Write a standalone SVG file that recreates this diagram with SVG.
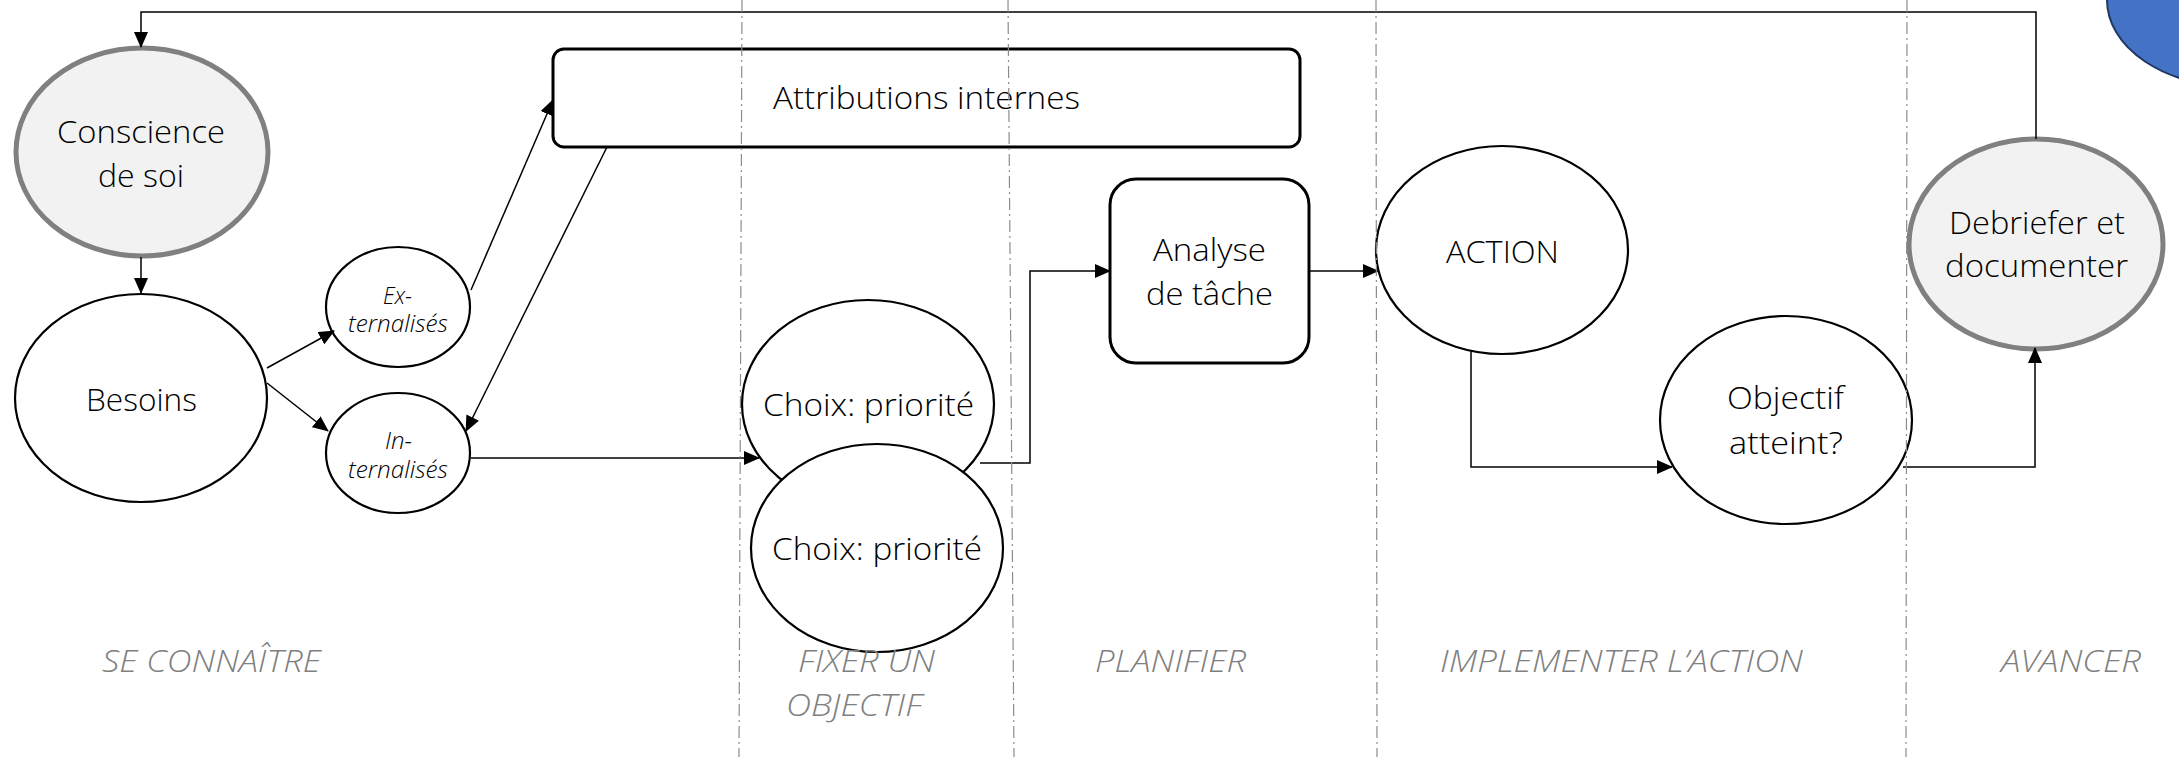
<svg xmlns="http://www.w3.org/2000/svg" width="2179" height="757" viewBox="0 0 2179 757">
<style>
.n{fill:#fff;stroke:#000;stroke-width:2.2}
.g{fill:#f2f2f2;stroke:#808080;stroke-width:5}
.b{fill:#fff;stroke:#000;stroke-width:3}
.t{font-family:"Open Sans","Liberation Sans",sans-serif;font-weight:350;font-size:31px;fill:#000}
.s{font-family:"Open Sans","Liberation Sans",sans-serif;font-weight:350;font-style:italic;font-size:23px;fill:#000}
.l{font-family:"Open Sans","Liberation Sans",sans-serif;font-weight:300;font-style:italic;font-size:31px;fill:#808080}
.c{fill:none;stroke:#000;stroke-width:1.5}
.d{fill:none;stroke:#8c8c8c;stroke-width:1.2;stroke-dasharray:12 4 2 4}
</style>
<defs>
<marker id="ah" markerUnits="userSpaceOnUse" markerWidth="16" markerHeight="14" refX="15" refY="7" orient="auto">
<path d="M0,0 L16,7 L0,14 Z" fill="#000"/>
</marker>
</defs>
<ellipse cx="2237" cy="0" rx="130" ry="87" fill="#4472c4" stroke="#1f3864" stroke-width="2"/>
<g id="conscience"><ellipse class="g" cx="142" cy="152" rx="126" ry="104"/>
<text class="t" x="57" y="143" textLength="168" lengthAdjust="spacingAndGlyphs">Conscience</text>
<text class="t" x="98" y="187" textLength="86" lengthAdjust="spacingAndGlyphs">de soi</text></g>
<g id="besoins"><ellipse class="n" cx="141" cy="398" rx="126" ry="104"/>
<text class="t" x="86" y="411" textLength="111" lengthAdjust="spacingAndGlyphs">Besoins</text></g>
<g id="externalises"><ellipse class="n" cx="398" cy="307" rx="72" ry="60"/>
<text class="s" x="383" y="304" textLength="29" lengthAdjust="spacingAndGlyphs">Ex-</text>
<text class="s" x="348" y="332" textLength="100" lengthAdjust="spacingAndGlyphs">ternalisés</text></g>
<g id="internalises"><ellipse class="n" cx="398" cy="453" rx="72" ry="60"/>
<text class="s" x="385" y="449" textLength="27" lengthAdjust="spacingAndGlyphs">In-</text>
<text class="s" x="348" y="478" textLength="100" lengthAdjust="spacingAndGlyphs">ternalisés</text></g>
<g id="attributions"><rect class="b" x="553" y="49" width="747" height="98" rx="11"/>
<text class="t" x="773" y="109" textLength="307" lengthAdjust="spacingAndGlyphs">Attributions internes</text></g>
<g id="choix1"><ellipse class="n" cx="868" cy="404" rx="126" ry="104"/>
<text class="t" x="763" y="416" textLength="211" lengthAdjust="spacingAndGlyphs">Choix: priorité</text></g>
<g id="choix2"><ellipse class="n" cx="877" cy="548" rx="126" ry="104"/>
<text class="t" x="772" y="560" textLength="210" lengthAdjust="spacingAndGlyphs">Choix: priorité</text></g>
<g id="analyse"><rect class="b" x="1110" y="179" width="199" height="184" rx="26"/>
<text class="t" x="1153" y="261" textLength="113" lengthAdjust="spacingAndGlyphs">Analyse</text>
<text class="t" x="1146" y="305" textLength="127" lengthAdjust="spacingAndGlyphs">de tâche</text></g>
<g id="action"><ellipse class="n" cx="1502" cy="250" rx="126" ry="104"/>
<text class="t" x="1446" y="263" textLength="113" lengthAdjust="spacingAndGlyphs">ACTION</text></g>
<g id="objectif"><ellipse class="n" cx="1786" cy="420" rx="126" ry="104"/>
<text class="t" x="1727" y="409" textLength="117" lengthAdjust="spacingAndGlyphs">Objectif</text>
<text class="t" x="1729" y="454" textLength="114" lengthAdjust="spacingAndGlyphs">atteint?</text></g>
<g id="debriefer"><ellipse class="g" cx="2036" cy="244" rx="127" ry="105"/>
<text class="t" x="1949" y="234" textLength="176" lengthAdjust="spacingAndGlyphs">Debriefer et</text>
<text class="t" x="1945" y="277" textLength="183" lengthAdjust="spacingAndGlyphs">documenter</text></g>
<g id="connectors">
<path class="c" d="M2036,139 L2036,12 L141,12 L141,47" marker-end="url(#ah)"/>
<path class="c" d="M141,257 L141,293" marker-end="url(#ah)"/>
<path class="c" d="M267,368 L334,331" marker-end="url(#ah)"/>
<path class="c" d="M267,383 L328,431" marker-end="url(#ah)"/>
<path class="c" d="M471,290 L553,100" marker-end="url(#ah)"/>
<path class="c" d="M607,147 L466,431" marker-end="url(#ah)"/>
<path class="c" d="M471,458 L759,458" marker-end="url(#ah)"/>
<path class="c" d="M980,463 L1030,463 L1030,271 L1110,271" marker-end="url(#ah)"/>
<path class="c" d="M1309,271 L1378,271" marker-end="url(#ah)"/>
<path class="c" d="M1471,350 L1471,467 L1672,467" marker-end="url(#ah)"/>
<path class="c" d="M1903,467 L2035,467 L2035,348" marker-end="url(#ah)"/>
</g>
<g id="lanes">
<line class="d" x1="742" y1="0" x2="739" y2="757"/>
<line class="d" x1="1008" y1="0" x2="1014" y2="757"/>
<line class="d" x1="1376" y1="0" x2="1377" y2="757"/>
<line class="d" x1="1907" y1="0" x2="1906" y2="757"/>
<text class="l" x="102" y="672" textLength="219" lengthAdjust="spacingAndGlyphs">SE CONNAÎTRE</text>
<text class="l" x="798" y="672" textLength="137" lengthAdjust="spacingAndGlyphs">FIXER UN</text>
<text class="l" x="786" y="716" textLength="136" lengthAdjust="spacingAndGlyphs">OBJECTIF</text>
<text class="l" x="1095" y="672" textLength="151" lengthAdjust="spacingAndGlyphs">PLANIFIER</text>
<text class="l" x="1440" y="672" textLength="363" lengthAdjust="spacingAndGlyphs">IMPLEMENTER L’ACTION</text>
<text class="l" x="2001" y="672" textLength="140" lengthAdjust="spacingAndGlyphs">AVANCER</text>
</g>
</svg>
